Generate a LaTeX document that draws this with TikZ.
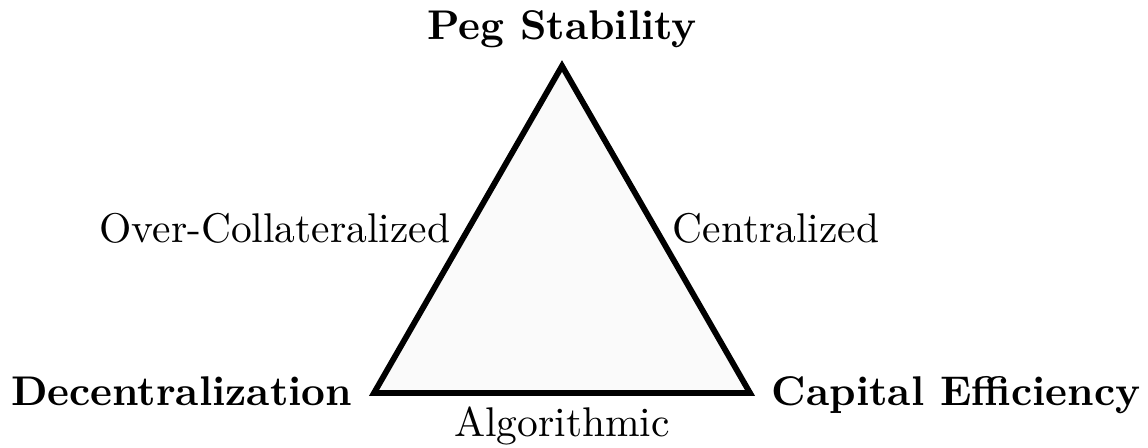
\documentclass[tikz,border=0pt]{standalone}
\begin{document}
\begin{tikzpicture}[x=0.241pt,y=-0.241pt,
  vlabel/.style={font=\bfseries, inner sep=0pt},
  elabel/.style={inner sep=0pt}]
\useasboundingbox (0,0) rectangle (1148,448);
\coordinate (T) at (562,66);
\coordinate (L) at (374,393);
\coordinate (R) at (750,393);
\draw[line width=1.4pt, line join=miter, fill=black!2] (T) -- (R) -- (L) -- cycle;
\node[vlabel, anchor=base] (peg) at (562,40) {Peg Stability};
\node[vlabel, anchor=base east] (dec) at (353,406) {Decentralization};
\node[vlabel, anchor=base west] (cap) at (771,406) {Capital Efficiency};
\node[elabel, anchor=base east] (over) at (451,243) {Over-Collateralized};
\node[elabel, anchor=base west] (cen) at (672,243) {Centralized};
\node[elabel, anchor=base] (alg) at (562,437) {Algorithmic};
\end{tikzpicture}
\end{document}
